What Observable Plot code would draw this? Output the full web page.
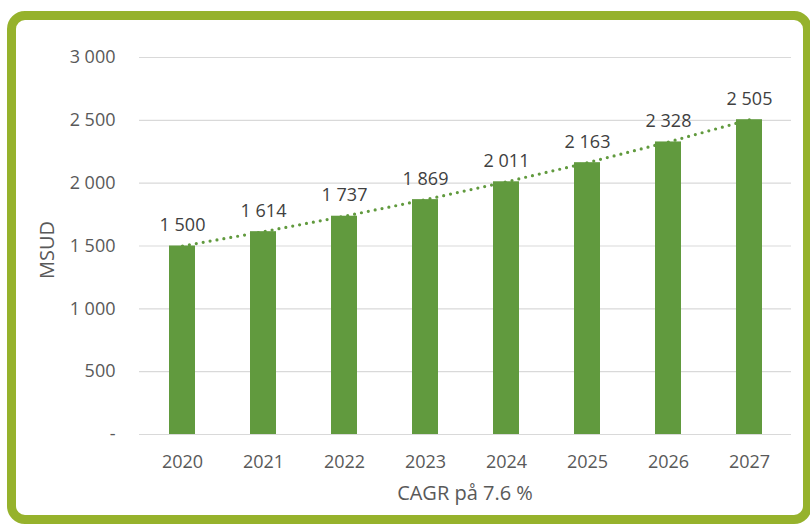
<!DOCTYPE html>
<html>
<head>
<meta charset="utf-8">
<script src="https://cdn.jsdelivr.net/npm/d3@7"></script>
<script src="https://cdn.jsdelivr.net/npm/@observablehq/plot@0.6"></script>
<style>
  html, body { margin: 0; padding: 0; background: #ffffff; }
  #wrap { position: relative; width: 810px; height: 525px; overflow: hidden; background: #fff; }
  #frame { position: absolute; left: 7px; top: 11px; width: 805px; height: 513px; box-sizing: border-box;
           border: 9px solid #96b22c; border-radius: 18px; background: #fff; }
  #chart { position: absolute; left: 0; top: 0; }
  #caption { position: absolute; left: 139px; width: 652px; top: 482px; text-align: center;
             font-family: "Open Sans", sans-serif; font-size: 20px; line-height: 22px; color: #595959; }
</style>
</head>
<body>
<div id="wrap">
  <div id="frame"></div>
  <div id="chart"></div>
  <div id="caption">CAGR på 7.6 %</div>
</div>
<script>
const years = ["2020", "2021", "2022", "2023", "2024", "2025", "2026", "2027"];
const values = [1500, 1614, 1737, 1869, 2011, 2163, 2328, 2505];
const yTicks = [0, 500, 1000, 1500, 2000, 2500, 3000];
const yLabel = "MSUD";

const data = years.map((year, i) => ({year, value: values[i]}));
const fmt = d => d === 0 ? "-" : d3.format(",")(d).replace(/,/g, " ");
const green = "#619a3e";

const chart = Plot.plot({
  width: 810,
  height: 480,
  marginTop: 57,
  marginBottom: 46,
  marginLeft: 139,
  marginRight: 19,
  style: {fontFamily: "'Open Sans', sans-serif", fontSize: "18px", color: "#595959", background: "transparent", overflow: "visible"},
  x: {domain: years, paddingInner: 0.685, paddingOuter: 0.3425, label: null},
  y: {domain: [0, 3000], label: null},
  marks: [
    Plot.ruleY(yTicks, {stroke: "#d9d9d9", strokeWidth: 1.2}),
    Plot.axisY({ticks: yTicks, tickFormat: fmt, tickSize: 0, tickPadding: 24, label: null, fill: "#595959", fontSize: 18}),
    Plot.axisX({tickSize: 0, tickPadding: 21, label: null, fill: "#595959", fontSize: 18}),
    Plot.line(data, {x: "year", y: "value", stroke: green, strokeWidth: 3.2, strokeDasharray: "0,7", strokeLinecap: "round"}),
    Plot.barY(data, {x: "year", y: "value", fill: green}),
    Plot.text(data, {x: "year", y: "value", text: d => fmt(d.value), lineAnchor: "bottom", dy: -15, fill: "#404040", fontSize: 18}),
    Plot.text([yLabel], {frameAnchor: "left", textAnchor: "middle", dx: -92, dy: 4, rotate: -90, fill: "#595959", fontSize: 20})
  ]
});
document.getElementById("chart").appendChild(chart);
</script>
</body>
</html>
